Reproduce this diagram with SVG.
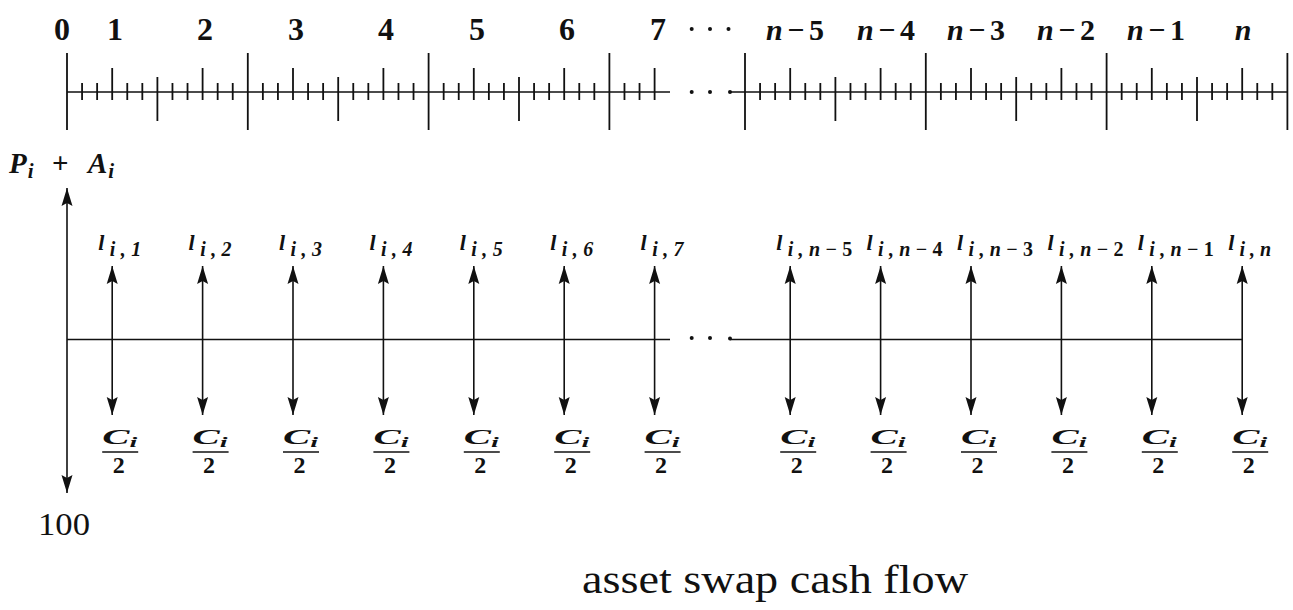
<svg xmlns="http://www.w3.org/2000/svg" width="1293" height="610" viewBox="0 0 1293 610">
<style>
.ax{stroke:#111;stroke-width:1.6;fill:none}
.tk{stroke:#111;stroke-width:1.8;fill:none}
.ar{stroke:#111;stroke-width:1.6;fill:none;marker-end:url(#ah)}
.bar{stroke:#111;stroke-width:1.7}
.dot{fill:#111}
.num{font-family:"Liberation Serif",serif;font-weight:bold;font-size:32px;text-anchor:middle;fill:#111}
.nl{font-family:"Liberation Serif",serif;font-weight:bold;font-size:30px;text-anchor:middle;fill:#111}
.lab{font-family:"Liberation Serif",serif;font-weight:bold;font-size:22px;fill:#111}
.sub{font-size:20px}
.it{font-style:italic}
.two{font-family:"Liberation Serif",serif;font-weight:bold;font-size:24px;text-anchor:middle;fill:#111}
.rm{font-family:"Liberation Serif",serif;fill:#111}
</style>
<defs>
<marker id="ah" viewBox="0 0 18 12" refX="18" refY="6" markerWidth="18" markerHeight="12" markerUnits="userSpaceOnUse" orient="auto">
<path d="M0,0.5 L18,6 L0,11.5 L3,6 Z" fill="#111"/>
</marker>
</defs>
<rect width="1293" height="610" fill="#fff"/>

<g id="timeline">
<path class="ax" d="M67 92 H670 M730 92 H1287.4"/>
<path class="tk" d="M82.07 83V100M97.13 83V100M127.27 83V100M142.33 83V100M172.47 83V100M187.53 83V100M217.67 83V100M232.73 83V100M262.87 83V100M277.93 83V100M308.07 83V100M323.13 83V100M353.27 83V100M368.33 83V100M398.47 83V100M413.53 83V100M443.67 83V100M458.73 83V100M488.87 83V100M503.93 83V100M534.07 83V100M549.13 83V100M579.27 83V100M594.33 83V100M624.47 83V100M639.53 83V100M760.07 83V100M775.13 83V100M805.27 83V100M820.33 83V100M850.47 83V100M865.53 83V100M895.67 83V100M910.73 83V100M940.87 83V100M955.93 83V100M986.07 83V100M1001.13 83V100M1031.27 83V100M1046.33 83V100M1076.47 83V100M1091.53 83V100M1121.67 83V100M1136.73 83V100M1166.87 83V100M1181.93 83V100M1212.07 83V100M1227.13 83V100M1257.27 83V100M1272.33 83V100"/>
<path class="tk" d="M112.2 68V100M202.6 68V100M293 68V100M383.4 68V100M473.8 68V100M564.2 68V100M654.6 68V100M790.2 68V100M880.6 68V100M971 68V100M1061.4 68V100M1151.8 68V100M1242.2 68V100"/>
<path class="tk" d="M157.4 77V121M338.2 77V121M519 77V121M835.4 77V121M1016.2 77V121M1197 77V121"/>
<path class="tk" d="M67 53V130M247.8 53V130M428.6 53V130M609.4 53V130M745 53V130M925.8 53V130M1106.6 53V130M1287.4 53V130"/>
<circle class="dot" cx="691.7" cy="92" r="2"/>
<circle class="dot" cx="710" cy="92" r="2"/>
<circle class="dot" cx="730" cy="92" r="2"/>
</g>

<g id="time-labels">
<text class="num" x="62" y="40">0</text>
<text class="num" x="115" y="40">1</text>
<text class="num" x="205" y="40">2</text>
<text class="num" x="296" y="40">3</text>
<text class="num" x="386" y="40">4</text>
<text class="num" x="477" y="40">5</text>
<text class="num" x="567" y="40">6</text>
<text class="num" x="658" y="40">7</text>
<circle class="dot" cx="691.7" cy="29" r="2"/>
<circle class="dot" cx="710" cy="29" r="2"/>
<circle class="dot" cx="728.5" cy="29" r="2"/>
<text class="nl" x="795" y="40" textLength="58" lengthAdjust="spacing"><tspan class="it">n</tspan>−5</text>
<text class="nl" x="886" y="40" textLength="58" lengthAdjust="spacing"><tspan class="it">n</tspan>−4</text>
<text class="nl" x="976" y="40" textLength="58" lengthAdjust="spacing"><tspan class="it">n</tspan>−3</text>
<text class="nl" x="1066" y="40" textLength="58" lengthAdjust="spacing"><tspan class="it">n</tspan>−2</text>
<text class="nl" x="1156" y="40" textLength="58" lengthAdjust="spacing"><tspan class="it">n</tspan>−1</text>
<text class="nl it" x="1243" y="40">n</text>
</g>

<g id="connectors">
<path class="ar" d="M67 340 V188"/>
<path class="ar" d="M67 340 V493"/>
<path class="ax" d="M67 339.5 H670 M730 339.5 H1242.2"/>
<circle class="dot" cx="691.7" cy="338" r="2"/>
<circle class="dot" cx="710" cy="338" r="2"/>
<circle class="dot" cx="730" cy="338.5" r="2"/>
<path class="ar" d="M112.2 340 V266"/><path class="ar" d="M112.2 340 V415"/>
<path class="ar" d="M202.6 340 V266"/><path class="ar" d="M202.6 340 V415"/>
<path class="ar" d="M293 340 V266"/><path class="ar" d="M293 340 V415"/>
<path class="ar" d="M383.4 340 V266"/><path class="ar" d="M383.4 340 V415"/>
<path class="ar" d="M473.8 340 V266"/><path class="ar" d="M473.8 340 V415"/>
<path class="ar" d="M564.2 340 V266"/><path class="ar" d="M564.2 340 V415"/>
<path class="ar" d="M654.6 340 V266"/><path class="ar" d="M654.6 340 V415"/>
<path class="ar" d="M790.2 340 V266"/><path class="ar" d="M790.2 340 V415"/>
<path class="ar" d="M880.6 340 V266"/><path class="ar" d="M880.6 340 V415"/>
<path class="ar" d="M971 340 V266"/><path class="ar" d="M971 340 V415"/>
<path class="ar" d="M1061.4 340 V266"/><path class="ar" d="M1061.4 340 V415"/>
<path class="ar" d="M1151.8 340 V266"/><path class="ar" d="M1151.8 340 V415"/>
<path class="ar" d="M1242.2 340 V266"/><path class="ar" d="M1242.2 340 V415"/>
</g>

<g id="principal">
<text class="lab" x="9" y="173" style="font-size:29px"><tspan class="it">P</tspan><tspan class="it" style="font-size:21px" dy="5" dx="1">i</tspan><tspan x="52" dy="-5">+</tspan><tspan class="it" x="88">A</tspan><tspan class="it" style="font-size:21px" dy="5" dx="1">i</tspan></text>
<text class="rm" x="38" y="535" style="font-size:32px" textLength="52" lengthAdjust="spacingAndGlyphs">100</text>
</g>

<g id="floating-labels">
<text class="lab it" x="98.2" y="250" textLength="43" lengthAdjust="spacing">l<tspan class="sub" dy="6">i,1</tspan></text>
<text class="lab it" x="188.6" y="250" textLength="43" lengthAdjust="spacing">l<tspan class="sub" dy="6">i,2</tspan></text>
<text class="lab it" x="279" y="250" textLength="43" lengthAdjust="spacing">l<tspan class="sub" dy="6">i,3</tspan></text>
<text class="lab it" x="369.4" y="250" textLength="43" lengthAdjust="spacing">l<tspan class="sub" dy="6">i,4</tspan></text>
<text class="lab it" x="459.8" y="250" textLength="43" lengthAdjust="spacing">l<tspan class="sub" dy="6">i,5</tspan></text>
<text class="lab it" x="550.2" y="250" textLength="43" lengthAdjust="spacing">l<tspan class="sub" dy="6">i,6</tspan></text>
<text class="lab it" x="640.6" y="250" textLength="43" lengthAdjust="spacing">l<tspan class="sub" dy="6">i,7</tspan></text>
<text class="lab it" x="776.2" y="250" textLength="76" lengthAdjust="spacing">l<tspan class="sub" dy="6">i,n<tspan font-style="normal">−5</tspan></tspan></text>
<text class="lab it" x="866.6" y="250" textLength="76" lengthAdjust="spacing">l<tspan class="sub" dy="6">i,n<tspan font-style="normal">−4</tspan></tspan></text>
<text class="lab it" x="957" y="250" textLength="76" lengthAdjust="spacing">l<tspan class="sub" dy="6">i,n<tspan font-style="normal">−3</tspan></tspan></text>
<text class="lab it" x="1047.4" y="250" textLength="76" lengthAdjust="spacing">l<tspan class="sub" dy="6">i,n<tspan font-style="normal">−2</tspan></tspan></text>
<text class="lab it" x="1137.8" y="250" textLength="76" lengthAdjust="spacing">l<tspan class="sub" dy="6">i,n<tspan font-style="normal">−1</tspan></tspan></text>
<text class="lab it" x="1228.2" y="250" textLength="43" lengthAdjust="spacing">l<tspan class="sub" dy="6">i,n</tspan></text>
</g>

<g id="coupon-labels">
<g id="c1"><text class="lab it" x="102.2" y="444" textLength="35" lengthAdjust="spacingAndGlyphs">C<tspan style="font-size:15px" dy="3">i</tspan></text><line class="bar" x1="102.2" y1="452" x2="138.2" y2="452"/><text class="two" x="118.7" y="473">2</text></g>
<g id="c2"><text class="lab it" x="192.6" y="444" textLength="35" lengthAdjust="spacingAndGlyphs">C<tspan style="font-size:15px" dy="3">i</tspan></text><line class="bar" x1="192.6" y1="452" x2="228.6" y2="452"/><text class="two" x="209.1" y="473">2</text></g>
<g id="c3"><text class="lab it" x="283" y="444" textLength="35" lengthAdjust="spacingAndGlyphs">C<tspan style="font-size:15px" dy="3">i</tspan></text><line class="bar" x1="283" y1="452" x2="319" y2="452"/><text class="two" x="299.5" y="473">2</text></g>
<g id="c4"><text class="lab it" x="373.4" y="444" textLength="35" lengthAdjust="spacingAndGlyphs">C<tspan style="font-size:15px" dy="3">i</tspan></text><line class="bar" x1="373.4" y1="452" x2="409.4" y2="452"/><text class="two" x="389.9" y="473">2</text></g>
<g id="c5"><text class="lab it" x="463.8" y="444" textLength="35" lengthAdjust="spacingAndGlyphs">C<tspan style="font-size:15px" dy="3">i</tspan></text><line class="bar" x1="463.8" y1="452" x2="499.8" y2="452"/><text class="two" x="480.3" y="473">2</text></g>
<g id="c6"><text class="lab it" x="554.2" y="444" textLength="35" lengthAdjust="spacingAndGlyphs">C<tspan style="font-size:15px" dy="3">i</tspan></text><line class="bar" x1="554.2" y1="452" x2="590.2" y2="452"/><text class="two" x="570.7" y="473">2</text></g>
<g id="c7"><text class="lab it" x="644.6" y="444" textLength="35" lengthAdjust="spacingAndGlyphs">C<tspan style="font-size:15px" dy="3">i</tspan></text><line class="bar" x1="644.6" y1="452" x2="680.6" y2="452"/><text class="two" x="661.1" y="473">2</text></g>
<g id="c8"><text class="lab it" x="780.2" y="444" textLength="35" lengthAdjust="spacingAndGlyphs">C<tspan style="font-size:15px" dy="3">i</tspan></text><line class="bar" x1="780.2" y1="452" x2="816.2" y2="452"/><text class="two" x="796.7" y="473">2</text></g>
<g id="c9"><text class="lab it" x="870.6" y="444" textLength="35" lengthAdjust="spacingAndGlyphs">C<tspan style="font-size:15px" dy="3">i</tspan></text><line class="bar" x1="870.6" y1="452" x2="906.6" y2="452"/><text class="two" x="887.1" y="473">2</text></g>
<g id="c10"><text class="lab it" x="961" y="444" textLength="35" lengthAdjust="spacingAndGlyphs">C<tspan style="font-size:15px" dy="3">i</tspan></text><line class="bar" x1="961" y1="452" x2="997" y2="452"/><text class="two" x="977.5" y="473">2</text></g>
<g id="c11"><text class="lab it" x="1051.4" y="444" textLength="35" lengthAdjust="spacingAndGlyphs">C<tspan style="font-size:15px" dy="3">i</tspan></text><line class="bar" x1="1051.4" y1="452" x2="1087.4" y2="452"/><text class="two" x="1067.9" y="473">2</text></g>
<g id="c12"><text class="lab it" x="1141.8" y="444" textLength="35" lengthAdjust="spacingAndGlyphs">C<tspan style="font-size:15px" dy="3">i</tspan></text><line class="bar" x1="1141.8" y1="452" x2="1177.8" y2="452"/><text class="two" x="1158.3" y="473">2</text></g>
<g id="c13"><text class="lab it" x="1232.2" y="444" textLength="35" lengthAdjust="spacingAndGlyphs">C<tspan style="font-size:15px" dy="3">i</tspan></text><line class="bar" x1="1232.2" y1="452" x2="1268.2" y2="452"/><text class="two" x="1248.7" y="473">2</text></g>
</g>

<g id="caption">
<text class="rm" x="582" y="593" style="font-size:40px" textLength="386" lengthAdjust="spacingAndGlyphs">asset swap cash flow</text>
</g>
</svg>
